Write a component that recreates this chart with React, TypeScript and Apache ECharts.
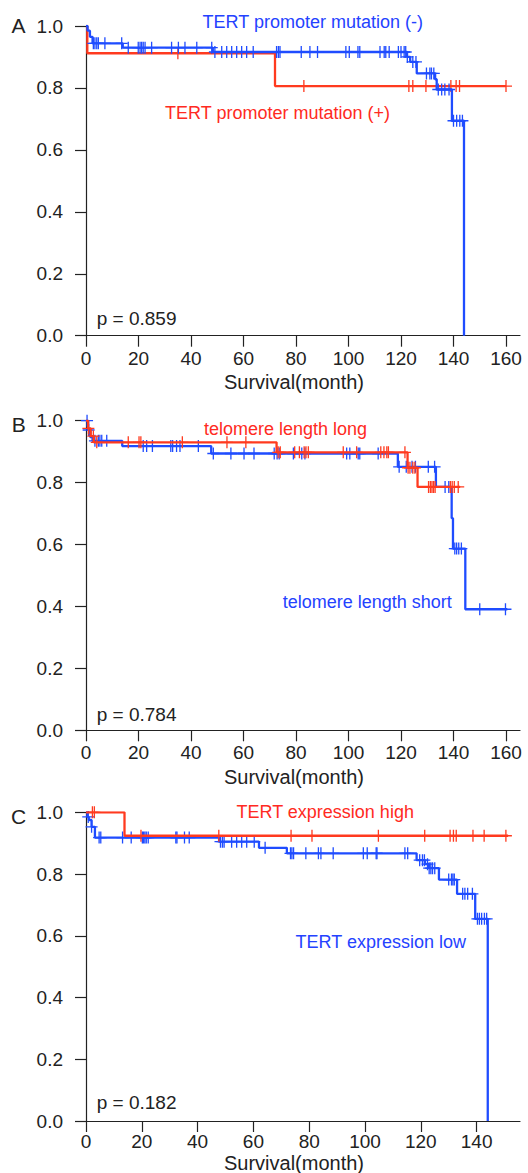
import React, { useEffect, useRef } from "react";
import * as echarts from "echarts";

// ---------- data ----------
const X_TICKS_AB = [0, 20, 40, 60, 80, 100, 120, 140, 160];
const X_TICKS_C = [0, 20, 40, 60, 80, 100, 120, 140];
const Y_TICKS = [0, 0.2, 0.4, 0.6, 0.8, 1.0];

// Panel A: TERT promoter mutation
const A_NEG_STEPS: [number, number][] = [
  [0, 1], [0.6, 0.985], [1.5, 0.965], [2.5, 0.944], [14, 0.93], [48.3, 0.916],
  [122.3, 0.9], [123.5, 0.884], [126, 0.847], [133, 0.828], [133.6, 0.795],
  [139.4, 0.694], [144, 0],
];
const A_NEG_CENSOR = [
  2.8, 3.4, 4.1, 4.7, 7.2, 13.6, 16.1, 19.9, 20.6, 21.2, 21.8, 22.5, 25, 32.6, 35.2,
  37.7, 42.2, 47.9, 49.1, 51.7, 53.6, 55.5, 57.4, 59.3, 61.2, 63.7, 72.6, 73.3, 73.9,
  82, 85.3, 88.2, 99, 100.3, 103.6, 104.3, 112, 113.6, 114.2, 115.5, 119, 120, 121.2,
  121.8, 122.4, 124.5, 125.7, 129.7, 131, 131.6, 132.5, 134.2, 135.5, 136.7, 138.3,
  140, 141.2, 142.4, 143.4,
];
const A_POS_STEPS: [number, number][] = [
  [0, 1], [0.5, 0.912], [72, 0.806], [160, 0.806],
];
const A_POS_CENSOR = [35, 83, 123, 124.5, 129.5, 139, 141, 142.3, 160];

// Panel B: telomere length
const B_LONG_STEPS: [number, number][] = [
  [0, 1], [0.8, 0.975], [1.8, 0.95], [3, 0.93], [72.6, 0.898], [122.5, 0.848],
  [126.3, 0.786], [142.5, 0.786],
];
const B_LONG_CENSOR = [
  0.9, 2.8, 4.1, 16.1, 20.2, 20.9, 36.7, 53.7, 60.9, 73.2, 74, 79.5, 81.3, 83.1,
  83.8, 84.7, 98, 103.1, 112.3, 113.5, 114.6, 115.2, 121.5, 122.7, 123.4, 124.5,
  125.3, 130.5, 131.2, 131.8, 132.4, 133, 138.8, 139.5, 140.3, 141.8,
];
const B_SHORT_STEPS: [number, number][] = [
  [0, 1], [0.8, 0.97], [1.6, 0.947], [2.5, 0.935], [13.8, 0.918], [47.7, 0.894],
  [118.8, 0.851], [133.3, 0.786], [139.3, 0.685], [139.8, 0.587], [144.5, 0.391],
  [160.5, 0.391],
];
const B_SHORT_CENSOR = [
  0.4, 1, 3.4, 4.7, 5.3, 6, 7.9, 21.8, 23.1, 25.3, 32.3, 33, 34.5, 35.8, 42.8, 48.5,
  55.2, 60.2, 64, 71.7, 72.8, 73.6, 79, 82.2, 83.4, 99.3, 100.5, 103.7, 104.3, 111.3,
  119.3, 122, 124.2, 125.5, 130.4, 132.8, 136.8, 138.2, 140.5, 141.2, 142, 143,
  150, 159.8,
];

// Panel C: TERT expression
const C_HIGH_STEPS: [number, number][] = [
  [0, 1], [13.8, 0.924], [151.3, 0.924],
];
const C_HIGH_CENSOR = [
  2.3, 3, 19.7, 47.6, 73.5, 81, 104.8, 121.4, 130.5, 131.7, 132.7, 138.7, 142.7, 150.5,
];
const C_LOW_STEPS: [number, number][] = [
  [0, 1], [0.5, 0.985], [1, 0.975], [2, 0.953], [3.2, 0.918], [47.7, 0.905],
  [62, 0.885], [72, 0.867], [118.5, 0.845], [121.5, 0.832], [123, 0.819],
  [126.5, 0.782], [133, 0.736], [139.5, 0.655], [144, 0],
];
const C_LOW_CENSOR = [
  0.8, 2, 4.7, 5.3, 13.1, 16.2, 20.2, 20.6, 21.1, 21.6, 22.3, 32.2, 32.6, 35.3, 37,
  48.2, 48.9, 49.5, 52.2, 54, 55.8, 57.6, 60.3, 64.2, 73.3, 73.8, 74.4, 78.8, 83.3,
  84.2, 88.6, 99.4, 100.8, 104, 104.3, 114.3, 115.3, 119.6, 120.6, 121.3, 122.4, 123,
  123.6, 124.2, 125, 130, 131, 131.5, 132, 135, 135.8, 136.8, 138.5, 140.3, 141,
  141.8, 142.8, 143.6,
];

// ---------- styles ----------
const RED = "#ff3a1f";
const BLUE = "#1f4cff";
const RED_TXT = "#ff2a22";
const BLUE_TXT = "#2442ff";
const INK = "#222222";
const FONT = "Liberation Sans, Arial, sans-serif";
const CROSS = "path://M5.35,0h1.3v12h-1.3z M0,5.35h12v1.3h-12z";

function survAt(steps: [number, number][], t: number): number {
  let s = steps[0][1];
  for (const [ti, si] of steps) {
    if (ti <= t) s = si;
    else break;
  }
  return s;
}

const PANELS = [
  { top: 26, height: 309.7, max: 434 / 2.625, ticks: X_TICKS_AB, labelMargin: 13 },
  { top: 420.7, height: 309.6, max: 434 / 2.625, ticks: X_TICKS_AB, labelMargin: 13 },
  { top: 812.3, height: 308.7, max: 434 / 2.79, ticks: X_TICKS_C, labelMargin: 11 },
];

export default function App() {
  const ref = useRef<HTMLDivElement>(null);
  useEffect(() => {
    if (!ref.current) return;
    document.body.style.margin = "0";
    const chart = echarts.init(ref.current, undefined, { renderer: "svg" });

    const grid = PANELS.map((p) => ({ left: 86, top: p.top, width: 434, height: p.height }));
    const xAxis = PANELS.map((p, i) => ({
      type: "value",
      gridIndex: i,
      min: 0,
      max: p.max,
      splitLine: { show: false },
      axisLine: { show: true, lineStyle: { color: INK, width: 1.2 } },
      axisTick: { show: true, length: 11, lineStyle: { color: INK, width: 1.2 }, customValues: p.ticks },
      axisLabel: {
        show: true,
        customValues: p.ticks,
        margin: p.labelMargin,
        color: INK,
        fontSize: 19,
        fontFamily: FONT,
        formatter: (v: number) => String(Math.round(v)),
      },
    }));
    const yAxis = PANELS.map((p, i) => ({
      type: "value",
      gridIndex: i,
      min: 0,
      max: 1,
      interval: 0.2,
      splitLine: { show: false },
      axisLine: { show: true, lineStyle: { color: INK, width: 1.2 } },
      axisTick: { show: true, length: 11, lineStyle: { color: INK, width: 1.2 }, customValues: Y_TICKS },
      axisLabel: {
        show: true,
        customValues: Y_TICKS,
        margin: 23,
        color: INK,
        fontSize: 19,
        fontFamily: FONT,
        formatter: (v: number) => v.toFixed(1),
      },
    }));

    const lineSeries = (steps: [number, number][], color: string, gi: number, z: number) => ({
      type: "line",
      xAxisIndex: gi,
      yAxisIndex: gi,
      step: "end",
      showSymbol: false,
      silent: true,
      z,
      lineStyle: { color, width: 2.3 },
      data: steps.map((d) => [d[0], d[1]]),
    });
    const censorSeries = (steps: [number, number][], cens: number[], color: string, gi: number, z: number) => ({
      type: "scatter",
      xAxisIndex: gi,
      yAxisIndex: gi,
      symbol: CROSS,
      symbolSize: 12,
      silent: true,
      z,
      itemStyle: { color, opacity: 1 },
      data: cens.map((t) => [t, survAt(steps, t)]),
    });

    const series = [
      lineSeries(A_POS_STEPS, RED, 0, 2),
      censorSeries(A_POS_STEPS, A_POS_CENSOR, RED, 0, 3),
      lineSeries(A_NEG_STEPS, BLUE, 0, 4),
      censorSeries(A_NEG_STEPS, A_NEG_CENSOR, BLUE, 0, 5),

      lineSeries(B_SHORT_STEPS, BLUE, 1, 2),
      censorSeries(B_SHORT_STEPS, B_SHORT_CENSOR, BLUE, 1, 3),
      lineSeries(B_LONG_STEPS, RED, 1, 4),
      censorSeries(B_LONG_STEPS, B_LONG_CENSOR, RED, 1, 5),

      lineSeries(C_LOW_STEPS, BLUE, 2, 2),
      censorSeries(C_LOW_STEPS, C_LOW_CENSOR, BLUE, 2, 3),
      lineSeries(C_HIGH_STEPS, RED, 2, 4),
      censorSeries(C_HIGH_STEPS, C_HIGH_CENSOR, RED, 2, 5),
    ];

    const txt = (text: string, x: number, y: number, size: number, fill: string, align = "center") => ({
      type: "text",
      x,
      y,
      silent: true,
      style: {
        text,
        fill,
        font: `${size}px ${FONT}`,
        textAlign: align,
        textVerticalAlign: "middle",
      },
    });

    const graphic = [
      txt("A", 18.5, 25.8, 21, INK),
      txt("TERT promoter mutation (-)", 312.8, 21.7, 18, BLUE_TXT),
      txt("TERT promoter mutation (+)", 277.5, 112.5, 18, RED_TXT),
      txt("p = 0.859", 96.7, 318.3, 19, INK, "left"),
      txt("Survival(month)", 294, 382, 20, INK),

      txt("B", 18.8, 424, 21, INK),
      txt("telomere length long", 285.5, 428.7, 18, RED_TXT),
      txt("telomere length short", 367.2, 602, 18, BLUE_TXT),
      txt("p = 0.784", 96.7, 714.7, 19, INK, "left"),
      txt("Survival(month)", 294, 776.5, 20, INK),

      txt("C", 18.5, 816.7, 21, INK),
      txt("TERT expression high", 325.2, 811.7, 18, RED_TXT),
      txt("TERT expression low", 380.8, 941.7, 18, BLUE_TXT),
      txt("p = 0.182", 96.7, 1102, 19, INK, "left"),
      txt("Survival(month)", 294, 1162.5, 20, INK),
    ];

    chart.setOption({
      animation: false,
      backgroundColor: "#ffffff",
      grid,
      xAxis,
      yAxis,
      series,
      graphic,
    });
    return () => chart.dispose();
  }, []);

  return (
    <div
      ref={ref}
      style={{ position: "absolute", left: 0, top: 0, width: 528, height: 1173 }}
    />
  );
}
